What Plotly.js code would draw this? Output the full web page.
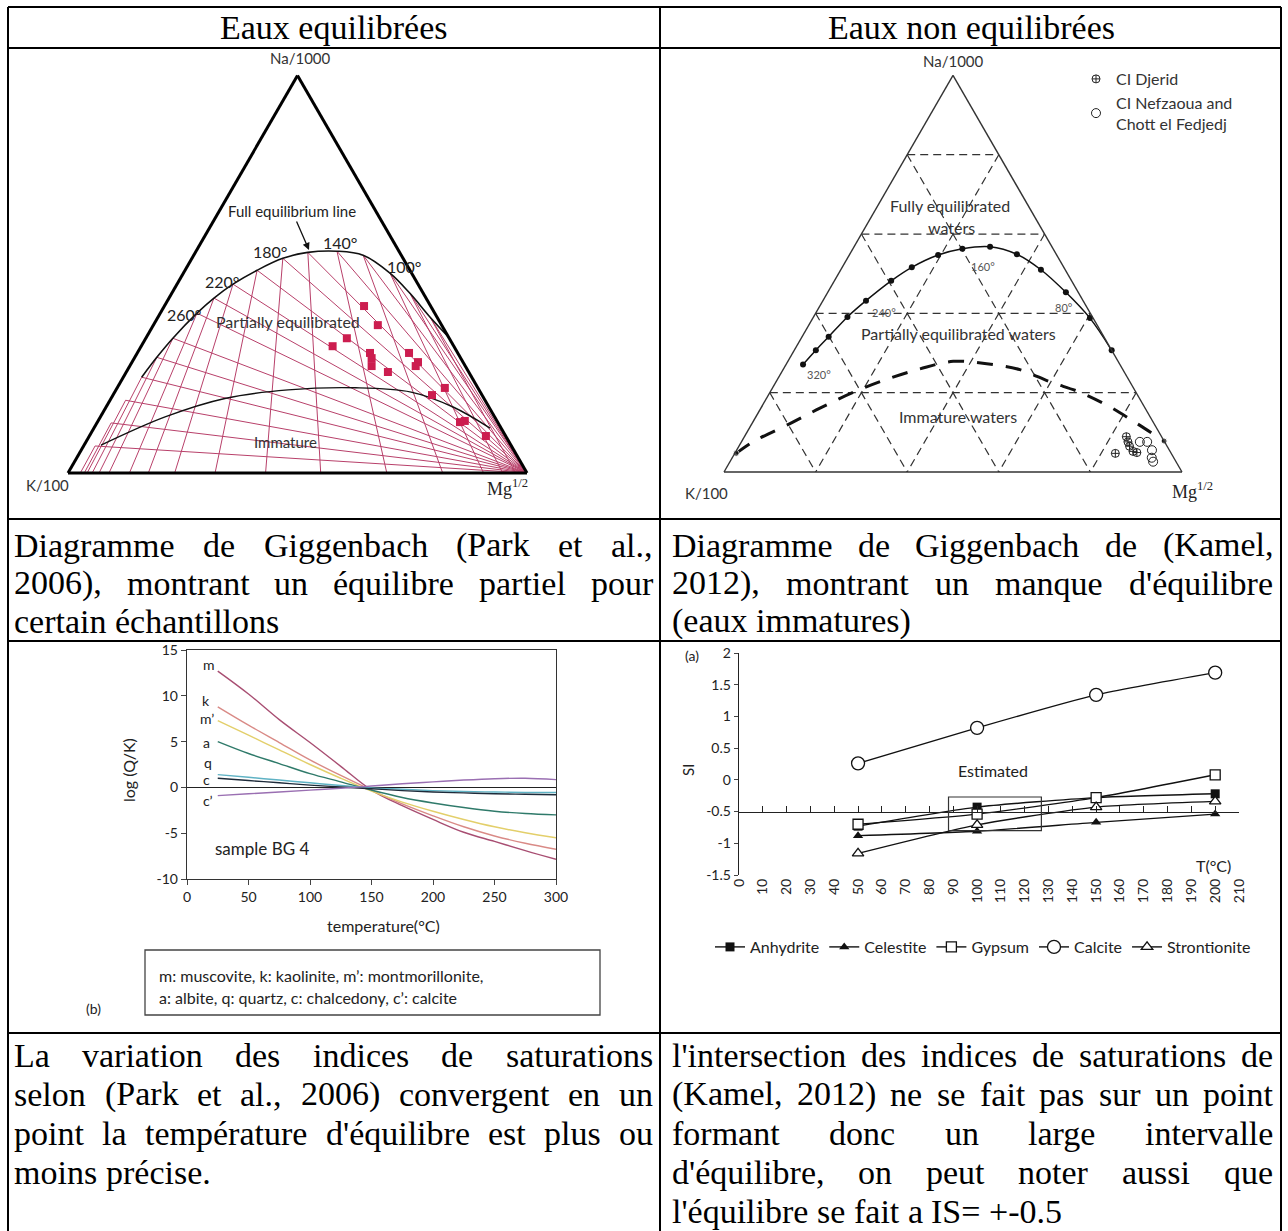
<!DOCTYPE html>
<html><head><meta charset="utf-8">
<script src="https://cdn.plot.ly/plotly-3.0.1.min.js"></script>
<style>html,body{margin:0;padding:0;background:#fff}#chart{width:1288px;height:1231px}</style>
</head><body><div id="chart"></div>
<script>
// ===== Panel 1 : Giggenbach diagram (Park et al., 2006) — values in % (Na/1000, K/100, Mg^1/2) =====
const eqTemp=[320,300,280,260,240,220,200,180,160,140,120,100,80,60,40];
const eqNa=[24.1,29.1,33.9,40.2,44.0,47.5,51.0,54.0,55.5,55.8,54.8,50.3,45.2,39.2,34.2];
const eqK =[71.9,66.1,60.2,51.8,46.2,40.3,33.3,26.2,20.0,13.5,8.3,4.7,2.9,1.5,0.0];
const eqMg=[4.0,4.8,5.9,8.0,9.8,12.2,15.7,19.8,24.5,30.7,36.9,45.0,51.9,59.3,65.8];
const hiNa=[18.3,12.6,6.8];
const hiK =[78.3,84.3,90.7];
const hiMg=[3.4,3.1,2.5];
const immNa=[7.0,14.1,18.8,20.9,21.6,20.4,16.6,11.3];
const immK =[89.3,71.8,56.2,41.6,26.8,15.1,7.8,2.4];
const immMg=[3.7,14.1,25.0,37.5,52.4,64.7,75.6,86.3];
const sNa=[42.0,37.2,33.9,31.9,30.2,28.9,26.9,25.4,30.2,27.9,26.9,19.6,21.4,12.8,13.1,9.3];
const sK =[14.5,13.9,22.3,26.4,19.1,19.4,20.4,17.6,10.6,9.8,10.8,10.9,7.2,8.2,7.0,4.3];
const sMg=[43.5,48.9,43.8,41.7,50.7,51.7,52.7,57.0,59.2,62.3,62.3,69.5,71.4,79.0,79.9,86.4];

// ===== Panel 2 : Giggenbach diagram (Kamel, 2012) =====
const gridLevels=[20,40,60,80];
const rEqNa=[27.1,30.7,34.1,39.1,43.2,48.2,51.6,54.7,56.3,56.8,54.9,51.0,45.3,38.8,30.7];
const rEqK =[69.2,64.6,60.1,53.5,47.4,39.4,33.2,25.9,19.8,13.5,8.6,5.3,2.7,0.7,0.0];
const rEqMg=[3.7,4.7,5.8,7.4,9.4,12.4,15.2,19.4,23.9,29.7,36.5,43.7,52.0,60.5,69.3];
const rImNa=[4.7,7.6,12.2,16.1,20.1,23.4,26.0,27.9,27.3,25.8,22.7,20.1,16.4,12.2,7.8];
const rImK =[95.0,89.9,79.5,71.0,61.7,52.7,44.2,36.0,29.0,22.5,17.4,12.2,7.5,3.7,0.0];
const rImMg=[0.3,2.5,8.3,12.9,18.2,23.9,29.8,36.1,43.7,51.7,59.9,67.7,76.1,84.1,92.2];
const djNa=[8.9,7.6,6.5,4.7,5.2,4.9];
const djK =[7.7,8.0,8.2,12.2,8.1,7.4];
const djMg=[83.4,84.4,85.3,83.1,86.7,87.7];
const nfNa=[7.6,7.6,5.5,3.6,2.6];
const nfK =[5.4,3.8,3.8,4.8,5.0];
const nfMg=[87.0,88.6,90.7,91.6,92.4];

// ===== Panel 3 : log(Q/K) vs temperature, sample BG 4 =====
const qkTemp=[25,50,75,100,125,150,175,200,225,250,275,300];
const qkMuscovite=[12.7,10.2,7.4,4.9,2.3,-0.3,-2.0,-3.5,-4.9,-5.9,-6.9,-7.85];
const qkKaolinite=[8.8,6.8,4.9,3.0,1.3,-0.3,-1.8,-3.1,-4.3,-5.3,-6.1,-6.75];
const qkMontmor =[7.3,5.7,4.1,2.5,1.0,-0.4,-1.6,-2.6,-3.5,-4.3,-4.95,-5.5];
const qkAlbite  =[5.0,3.7,2.6,1.5,0.6,-0.3,-1.1,-1.7,-2.2,-2.6,-2.85,-3.0];
const qkQuartz  =[1.4,1.1,0.8,0.5,0.2,-0.05,-0.2,-0.35,-0.45,-0.5,-0.55,-0.55];
const qkChalced =[1.0,0.75,0.5,0.25,0.05,-0.15,-0.35,-0.5,-0.6,-0.7,-0.75,-0.8];
const qkCalcite =[-0.9,-0.7,-0.5,-0.3,-0.1,0.15,0.4,0.6,0.8,0.95,1.0,0.85];
const qkXTicks=[0,50,100,150,200,250,300];
const qkXLabels=['0','50','100','150','200','250','300'];
const qkYTicks=[-10,-5,0,5,10,15];
const qkYLabels=['-10','-5','0','5','10','15'];

// ===== Panel 4 : SI vs temperature (Kamel, 2012) =====
const siTemp=[50,100,150,200];
const siAnhydrite=[-0.73,-0.43,-0.28,-0.22];
const siCelestite=[-0.88,-0.81,-0.67,-0.54];
const siGypsum=[-0.70,-0.54,-0.28,0.08];
const siCalcite=[0.26,0.82,1.34,1.69];
const siStrontionite=[-1.16,-0.71,-0.43,-0.34];
const siXTicks=[0,10,20,30,40,50,60,70,80,90,100,110,120,130,140,150,160,170,180,190,200,210];
const siXLabels=siXTicks.map(String);
const siYTicks=[-1.5,-1,-0.5,0,0.5,1,1.5,2];
const siYLabels=['-1.5','-1','-0.5','0','0.5','1','1.5','2'];
const siEstimatedBox=[88,127,-0.8,-0.27];
const siBaseLevel=-0.5;

// ---------- layout helpers ----------
const W=1288,H=1231;
const PX=x=>x/W, PY=y=>1-y/H;
const SERIF="'Liberation Serif', 'Times New Roman', serif";
const SANS="Lato, 'Open Sans', sans-serif";

const data=[];
// Panel 1 isotherm web
const ancNa=eqNa.concat(hiNa), ancK=eqK.concat(hiK), ancMg=eqMg.concat(hiMg);
const isoA=[],isoB=[],isoC=[];
for(let i=0;i<ancNa.length;i++){
  isoA.push(ancNa[i],0,null, ancNa[i],0,null);
  isoB.push(ancK[i],0,null, ancK[i],ancK[i],null);
  isoC.push(ancMg[i],100,null, ancMg[i],ancMg[i],null);
}
data.push({type:'scatterternary',subplot:'ternary',a:isoA,b:isoB,c:isoC,mode:'lines',
  line:{color:'#b8406a',width:1},hoverinfo:'skip',showlegend:false});
data.push({type:'scatterternary',subplot:'ternary',a:eqNa,b:eqK,c:eqMg,mode:'lines',
  line:{color:'#111',width:1.6,shape:'spline'},hoverinfo:'skip',showlegend:false});
data.push({type:'scatterternary',subplot:'ternary',a:immNa,b:immK,c:immMg,mode:'lines',
  line:{color:'#111',width:1.4,shape:'spline'},hoverinfo:'skip',showlegend:false});
data.push({type:'scatterternary',subplot:'ternary',a:sNa,b:sK,c:sMg,mode:'markers',cliponaxis:false,
  marker:{symbol:'square',size:8,color:'#cc1d4f'},hoverinfo:'skip',showlegend:false});

// Panel 2 dashed triangular grid
const gA=[],gB=[],gC=[];
gridLevels.forEach(L=>{
  gA.push(L,L,null);         gB.push(100-L,0,null);     gC.push(0,100-L,null);
  gA.push(100-L,0,null);     gB.push(L,L,null);         gC.push(0,100-L,null);
  gA.push(100-L,0,null);     gB.push(0,100-L,null);     gC.push(L,L,null);
});
data.push({type:'scatterternary',subplot:'ternary2',a:gA,b:gB,c:gC,mode:'lines',
  line:{color:'#333',width:1.2,dash:'8px,5px'},hoverinfo:'skip',showlegend:false});
data.push({type:'scatterternary',subplot:'ternary2',a:rEqNa,b:rEqK,c:rEqMg,mode:'lines+markers',cliponaxis:false,
  line:{color:'#111',width:1.5,shape:'spline'},marker:{size:6,color:'#111'},hoverinfo:'skip',showlegend:false});
data.push({type:'scatterternary',subplot:'ternary2',a:rImNa,b:rImK,c:rImMg,mode:'lines+markers',cliponaxis:false,
  line:{color:'#111',width:3,dash:'16px,13px',shape:'spline'},
  marker:{size:rImNa.map((v,i)=>(i===0||i===rImNa.length-1)?6:0),color:'#111'},hoverinfo:'skip',showlegend:false});
data.push({type:'scatterternary',subplot:'ternary2',a:djNa,b:djK,c:djMg,mode:'markers',cliponaxis:false,
  name:'CI Djerid',legend:'legend2',marker:{symbol:'circle-cross-open',size:8,color:'#222',line:{width:1}},hoverinfo:'skip'});
data.push({type:'scatterternary',subplot:'ternary2',a:nfNa,b:nfK,c:nfMg,mode:'markers',cliponaxis:false,
  name:'CI Nefzaoua and<br>Chott el Fedjedj',legend:'legend2',marker:{symbol:'circle-open',size:9,color:'#222',line:{width:1}},hoverinfo:'skip'});

// Panel 3 curves
const qkSeries=[
  [qkMuscovite,'#a84e72'],[qkKaolinite,'#d98a86'],[qkMontmor,'#e3cf6a'],
  [qkAlbite,'#2f7a6a'],[qkQuartz,'#5fb2c4'],[qkChalced,'#1e2b3a'],[qkCalcite,'#9a6fb2']];
qkSeries.forEach(([ys,col])=>data.push({type:'scatter',xaxis:'x',yaxis:'y',x:qkTemp,y:ys,mode:'lines',
  line:{color:col,width:1.4,shape:'spline'},hoverinfo:'skip',showlegend:false}));

// Panel 4 series
const siDefs=[
  ['Anhydrite',siAnhydrite,{symbol:'square',size:9,color:'#111'}],
  ['Celestite',siCelestite,{symbol:'triangle-up',size:9,color:'#111'}],
  ['Gypsum',siGypsum,{symbol:'square',size:10,color:'#fff',line:{color:'#111',width:1.3}}],
  ['Calcite',siCalcite,{symbol:'circle',size:13,color:'#fff',line:{color:'#111',width:1.3}}],
  ['Strontionite',siStrontionite,{symbol:'triangle-up',size:10,color:'#fff',line:{color:'#111',width:1.3}}]];
siDefs.forEach(([nm,ys,mk])=>data.push({type:'scatter',xaxis:'x2',yaxis:'y2',x:siTemp,y:ys,name:nm,
  mode:'lines+markers',cliponaxis:false,line:{color:'#111',width:1.4,shape:'spline',smoothing:0.6},marker:mk,hoverinfo:'skip'}));
data.push({type:'scatter',xaxis:'x3',yaxis:'y2',x:[siXTicks[0],siXTicks[siXTicks.length-1]],y:[siBaseLevel,siBaseLevel],
  mode:'lines',line:{color:'rgba(0,0,0,0)',width:0},hoverinfo:'skip',showlegend:false});

// ---------- annotations ----------
const ann=[];
function T(text,x,y,o){return Object.assign({text:text,x:PX(x),y:PY(y),xref:'paper',yref:'paper',showarrow:false,
  xanchor:'center',yanchor:'middle',borderpad:0,font:{family:SANS,size:15,color:'#333'}},o||{});}

// headers
ann.push(T('Eaux equilibrées',334,28,{font:{family:SERIF,size:34,color:'#000'}}));
ann.push(T('Eaux non equilibrées',971,28,{font:{family:SERIF,size:34,color:'#000'}}));

// panel 1 labels
ann.push(T('Na/1000',300,58));
ann.push(T('K/100',47,485));
ann.push(T('Mg<sup>1/2</sup>',507,488,{font:{family:SERIF,size:18,color:'#222'}}));
ann.push({text:'Full equilibrium line',x:PX(309),y:PY(250),ax:PX(292),ay:PY(211),axref:'paper',ayref:'paper',
  xref:'paper',yref:'paper',showarrow:true,arrowhead:2,arrowsize:1.1,arrowwidth:1.3,arrowcolor:'#111',
  font:{family:SANS,size:15,color:'#222'}});
ann.push(T('180°',270,252,{font:{family:SANS,size:16,color:'#222'}}));
ann.push(T('140°',340,242,{font:{family:SANS,size:16,color:'#222'}}));
ann.push(T('100°',404,267,{font:{family:SANS,size:16,color:'#222'}}));
ann.push(T('220°',222,281,{font:{family:SANS,size:16,color:'#222'}}));
ann.push(T('260°',184,315,{font:{family:SANS,size:16,color:'#222'}}));
ann.push(T('Partially equilibrated',288,321,{font:{family:SANS,size:16,color:'#333'}}));
ann.push(T('Immature',285,442,{font:{family:SANS,size:15,color:'#333'}}));

// panel 2 labels
ann.push(T('Na/1000',953,61));
ann.push(T('K/100',706,493));
ann.push(T('Mg<sup>1/2</sup>',1192,490,{font:{family:SERIF,size:18,color:'#222'}}));
ann.push(T('Fully equilibrated',950,205,{font:{family:SANS,size:16,color:'#333'}}));
ann.push(T('waters',952,228,{font:{family:SANS,size:16,color:'#333'}}));
ann.push(T('Partially equilibrated waters',958,333,{font:{family:SANS,size:16,color:'#333'}}));
ann.push(T('Immature waters',958,417,{font:{family:SANS,size:16,color:'#333'}}));
ann.push(T('160°',983,267,{font:{family:SANS,size:11,color:'#555'}}));
ann.push(T('240°',884,312,{font:{family:SANS,size:11,color:'#555'}}));
ann.push(T('80°',1064,307,{font:{family:SANS,size:11,color:'#555'}}));
ann.push(T('320°',819,374,{font:{family:SANS,size:11,color:'#555'}}));

// panel 3 labels
ann.push(T('log (Q/K)',128,770,{textangle:-90,font:{family:SANS,size:16,color:'#222'}}));
ann.push(T('temperature(°C)',383,925,{font:{family:SANS,size:16,color:'#222'}}));
ann.push(T('sample BG 4',262,848,{font:{family:SANS,size:17,color:'#222'}}));
[['m',209,665],['k',206,700],['m’',207,718],['a',206,742],['q',208,762],['c',206,779],['c’',208,800]]
  .forEach(([t,x,y])=>ann.push(T(t,x,y,{font:{family:SANS,size:14,color:'#222'}})));
ann.push(T('m: muscovite, k: kaolinite, m’: montmorillonite,',158,975,{xanchor:'left',font:{family:SANS,size:16,color:'#222'}}));
ann.push(T('a: albite, q: quartz, c: chalcedony, c’: calcite',158,997,{xanchor:'left',font:{family:SANS,size:16,color:'#222'}}));
ann.push(T('(b)',93,1008,{font:{family:SANS,size:14,color:'#222'}}));

// panel 4 labels
ann.push(T('(a)',692,655,{font:{family:SANS,size:14,color:'#222'}}));
ann.push(T('SI',688,770,{textangle:-90,font:{family:SANS,size:15,color:'#222'}}));
ann.push(T('Estimated',993,770,{font:{family:SANS,size:16,color:'#222'}}));
ann.push(T('T(°C)',1213,865,{font:{family:SANS,size:16,color:'#222'}}));

// justified paragraphs
const ctx=document.createElement('canvas').getContext('2d');
ctx.font="34px 'Liberation Serif'";
function para(lines,x0,x1,y0,dy){
  lines.forEach((ln,i)=>{
    const words=ln.split(' ');
    const ws=words.map(w=>ctx.measureText(w).width);
    const tot=ws.reduce((s,v)=>s+v,0);
    const justify=i<lines.length-1&&words.length>1;
    const gap=justify?(x1-x0-tot)/(words.length-1):ctx.measureText(' ').width;
    let x=x0;
    words.forEach((w,j)=>{
      ann.push(T(w,x,y0+i*dy,{xanchor:'left',font:{family:SERIF,size:34,color:'#000'}}));
      x+=ws[j]+gap;
    });
  });
}
para(['Diagramme de Giggenbach (Park et al.,','2006), montrant un équilibre partiel pour','certain échantillons'],13,652,545,38);
para(['Diagramme de Giggenbach de (Kamel,','2012), montrant un manque d\'équilibre','(eaux immatures)'],671,1272,545,38);
para(['La variation des indices de saturations','selon (Park et al., 2006) convergent en un','point la température d\'équilibre est plus ou','moins précise.'],13,652,1055,39);
para(['l\'intersection des indices de saturations de','(Kamel, 2012) ne se fait pas sur un point','formant donc un large intervalle','d\'équilibre, on peut noter aussi que','l\'équilibre se fait a IS= +-0.5'],671,1272,1055,39);

// ---------- shapes ----------
const shapes=[];
function L(x0,y0,x1,y1,w){shapes.push({type:'line',xref:'paper',yref:'paper',x0:PX(x0),y0:PY(y0),x1:PX(x1),y1:PY(y1),line:{color:'#000',width:w||2}});}
L(8,7,1281,7); L(8,48,1281,48); L(8,519,1281,519); L(8,641,1281,641); L(8,1033,1281,1033);
L(8,7,8,1231); L(660,7,660,1231); L(1281,7,1281,1231);
shapes.push({type:'rect',xref:'paper',yref:'paper',x0:PX(145),y0:PY(1015),x1:PX(600),y1:PY(950),line:{color:'#444',width:1.3}});
shapes.push({type:'rect',xref:'x2',yref:'y2',x0:siEstimatedBox[0],x1:siEstimatedBox[1],y0:siEstimatedBox[2],y1:siEstimatedBox[3],line:{color:'#333',width:1.2}});

// ---------- axes ----------
function tern(lw,col){return {title:{text:''},showgrid:false,showticklabels:false,ticks:'',linecolor:col,linewidth:lw,min:0};}
const y2dom=[PY(875),PY(653)];
const basePos=y2dom[0]+(siBaseLevel-(-1.5))/3.5*(y2dom[1]-y2dom[0]);

const layout={
  width:W,height:H,margin:{l:0,r:0,t:0,b:0},paper_bgcolor:'#fff',plot_bgcolor:'#fff',
  hovermode:false,font:{family:SANS,color:'#222'},showlegend:true,
  ternary:{domain:{x:[PX(68),PX(527)],y:[PY(473),PY(75.5)]},sum:100,bgcolor:'rgba(0,0,0,0)',
    aaxis:tern(3,'#000'),baxis:tern(3,'#000'),caxis:tern(3,'#000')},
  ternary2:{domain:{x:[PX(724),PX(1182)],y:[PY(472),PY(75.4)]},sum:100,bgcolor:'rgba(0,0,0,0)',
    aaxis:tern(1.4,'#333'),baxis:tern(1.4,'#333'),caxis:tern(1.4,'#333')},
  xaxis:{domain:[PX(187),PX(556)],range:[0,300],anchor:'y',tickvals:qkXTicks,ticktext:qkXLabels,ticks:'outside',ticklen:5,
    showline:true,mirror:true,linecolor:'#333',linewidth:1.2,showgrid:false,zeroline:false,tickfont:{family:SANS,size:14,color:'#222'}},
  yaxis:{domain:[PY(879),PY(650)],range:[-10,15],anchor:'x',tickvals:qkYTicks,ticktext:qkYLabels,ticks:'outside',ticklen:5,
    showline:true,mirror:true,linecolor:'#333',linewidth:1.2,showgrid:false,zeroline:true,zerolinecolor:'#222',zerolinewidth:1.3,
    tickfont:{family:SANS,size:14,color:'#222'}},
  xaxis2:{domain:[PX(739),PX(1239)],range:[0,210],anchor:'y2',tickvals:siXTicks,ticktext:siXLabels,tickangle:-90,
    showline:false,ticks:'',showgrid:false,zeroline:false,tickfont:{family:SANS,size:14,color:'#222'}},
  xaxis3:{overlaying:'x2',anchor:'free',position:basePos,range:[0,210],tickvals:siXTicks,showticklabels:false,
    ticks:'inside',ticklen:6,tickcolor:'#222',showline:true,linecolor:'#222',linewidth:1.3,showgrid:false,zeroline:false},
  yaxis2:{domain:y2dom,range:[-1.5,2],anchor:'x2',tickvals:siYTicks,ticktext:siYLabels,ticks:'outside',ticklen:4,
    showline:true,linecolor:'#222',linewidth:1.3,showgrid:false,zeroline:false,tickfont:{family:SANS,size:14,color:'#222'}},
  legend:{x:PX(983),y:PY(947),xanchor:'center',yanchor:'middle',orientation:'h',itemwidth:30,
    bgcolor:'rgba(0,0,0,0)',font:{family:SANS,size:16,color:'#222'},traceorder:'normal'},
  legend2:{x:PX(1076),y:PY(62),xanchor:'left',yanchor:'top',itemwidth:30,bgcolor:'rgba(0,0,0,0)',
    font:{family:SANS,size:16,color:'#333'}},
  annotations:ann,shapes:shapes
};
Plotly.newPlot('chart',data,layout,{staticPlot:true});
</script></body></html>
